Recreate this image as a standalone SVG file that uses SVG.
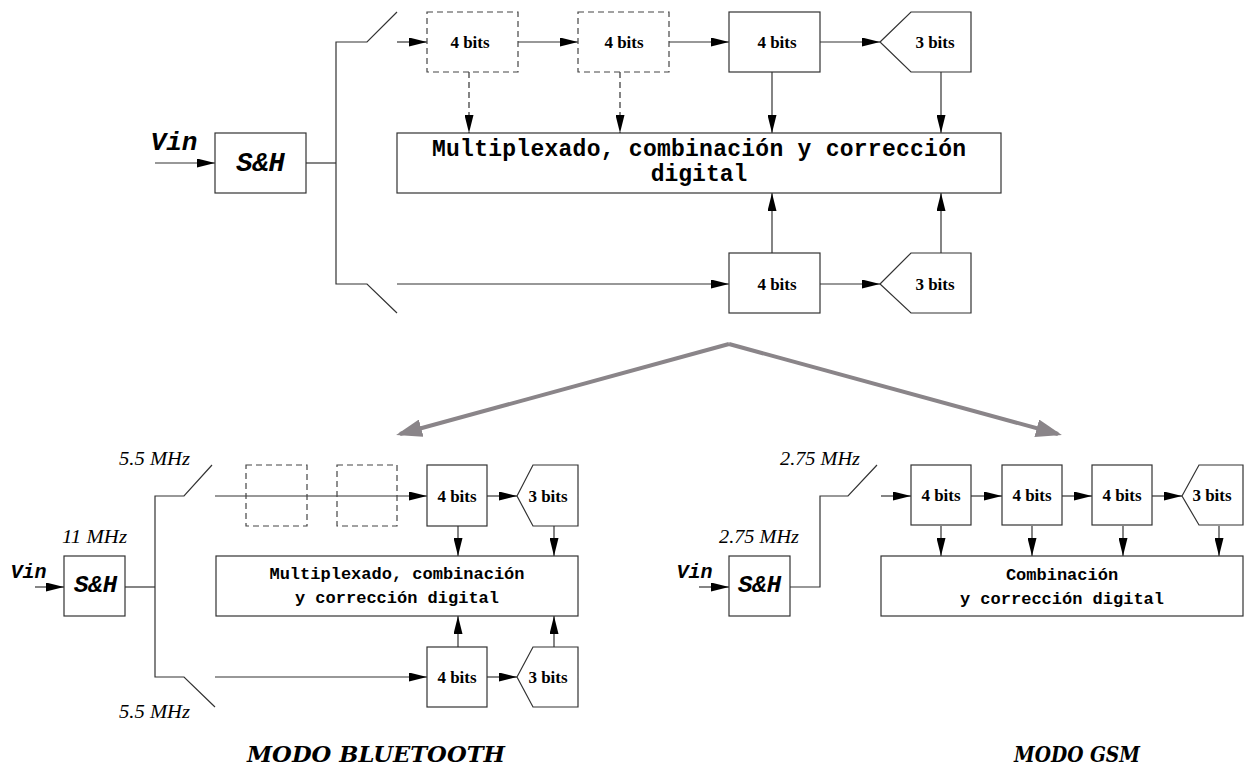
<svg xmlns="http://www.w3.org/2000/svg" width="1246" height="768" viewBox="0 0 1246 768">
<defs>
<marker id="ah" markerUnits="userSpaceOnUse" markerWidth="18" markerHeight="9" refX="18" refY="4.5" orient="auto"><path d="M0,0 L18,4.5 L0,9 z" fill="#000"/></marker>
<marker id="gh" markerUnits="userSpaceOnUse" markerWidth="26" markerHeight="18" refX="22" refY="9" orient="auto"><path d="M0,0 L26,9 L0,18 z" fill="#8a8589"/></marker>
<style>
.ln{fill:none;stroke:#333;stroke-width:1.2}
.ar{fill:none;stroke:#333;stroke-width:1.2;marker-end:url(#ah)}
.da{fill:none;stroke:#333;stroke-width:1.2;stroke-dasharray:6,4;marker-end:url(#ah)}
.bx{fill:#fff;stroke:#333;stroke-width:1.2}
.db{fill:none;stroke:#444;stroke-width:1.2;stroke-dasharray:6,4}
.bits{font-family:"Liberation Serif",serif;font-weight:bold;font-size:17px;text-anchor:middle;fill:#000}
.mono{font-family:"Liberation Mono",monospace;font-weight:bold;fill:#000}
.sh{font-family:"Liberation Mono",monospace;font-weight:bold;font-style:italic;fill:#000;text-anchor:middle}
.freq{font-family:"Liberation Serif",serif;font-style:italic;font-size:18px;fill:#000}
.title{font-family:"DejaVu Serif",serif;font-weight:bold;font-style:italic;font-size:22px;fill:#000}
.gray{fill:none;stroke:#8a8589;stroke-width:4;marker-end:url(#gh)}
</style>
</defs>
<rect width="1246" height="768" fill="#fff"/>

<g id="connectors">
<line class="ar" x1="155" y1="163" x2="215" y2="163"/>
<polyline class="ln" points="306,163 336,163"/>
<polyline class="ln" points="397,12 367,42 336,42 336,284 367,284 397,313"/>
<line class="ar" x1="397" y1="42" x2="427" y2="42"/>
<line class="ar" x1="518" y1="42" x2="578" y2="42"/>
<line class="ar" x1="669" y1="42" x2="729" y2="42"/>
<line class="ar" x1="820" y1="42" x2="880" y2="42"/>
<line class="da" x1="469" y1="72" x2="469" y2="133"/>
<line class="da" x1="620" y1="72" x2="620" y2="133"/>
<line class="ar" x1="772" y1="72" x2="772" y2="133"/>
<line class="ar" x1="941" y1="72" x2="941" y2="133"/>
<line class="ar" x1="397" y1="284" x2="729" y2="284"/>
<line class="ar" x1="820" y1="284" x2="880" y2="284"/>
<line class="ar" x1="772" y1="253" x2="772" y2="193"/>
<line class="ar" x1="941" y1="253" x2="941" y2="193"/>
<polyline class="gray" points="729,344 400,434"/>
<polyline class="gray" points="729,344 1058,434"/>
<line class="ar" x1="35" y1="587" x2="64" y2="587"/>
<polyline class="ln" points="125,587 155,587"/>
<polyline class="ln" points="212,465 184,496 155,496 155,677 184,677 215,707"/>
<line class="ar" x1="215" y1="496" x2="427" y2="496"/>
<line class="ar" x1="487" y1="496" x2="517" y2="496"/>
<line class="ar" x1="458" y1="526" x2="458" y2="556"/>
<line class="ar" x1="554" y1="526" x2="554" y2="556"/>
<line class="ar" x1="215" y1="677" x2="427" y2="677"/>
<line class="ar" x1="487" y1="677" x2="517" y2="677"/>
<line class="ar" x1="458" y1="647" x2="458" y2="616"/>
<line class="ar" x1="554" y1="647" x2="554" y2="616"/>
<line class="ar" x1="699" y1="587" x2="729" y2="587"/>
<polyline class="ln" points="790,587 820,587 820,496 848,496 877,465"/>
<line class="ar" x1="881" y1="496" x2="911" y2="496"/>
<line class="ar" x1="971" y1="496" x2="1002" y2="496"/>
<line class="ar" x1="1062" y1="496" x2="1092" y2="496"/>
<line class="ar" x1="1152" y1="496" x2="1182" y2="496"/>
<line class="ar" x1="941" y1="526" x2="941" y2="556"/>
<line class="ar" x1="1032" y1="526" x2="1032" y2="556"/>
<line class="ar" x1="1123" y1="526" x2="1123" y2="556"/>
<line class="ar" x1="1219" y1="526" x2="1219" y2="556"/>
</g>

<g id="top-vin"><text class="sh" x="174" y="150" font-size="26">Vin</text></g>
<g id="top-sh"><rect class="bx" x="215" y="133" width="91" height="60"/><text class="sh" x="260.5" y="171" font-size="27">S&amp;H</text></g>
<g id="top-d1"><rect class="db" x="427" y="12" width="91" height="60"/><text class="bits" x="470" y="48">4 bits</text></g>
<g id="top-d2"><rect class="db" x="578" y="12" width="91" height="60"/><text class="bits" x="624" y="48">4 bits</text></g>
<g id="top-b3"><rect class="bx" x="729" y="12" width="91" height="60"/><text class="bits" x="777" y="48">4 bits</text></g>
<g id="top-p"><polygon class="bx" points="880,42 911,12 971,12 971,72 911,72"/><text class="bits" x="935" y="48">3 bits</text></g>
<g id="top-mux"><rect class="bx" x="397" y="133" width="604" height="60"/>
<text class="mono" font-size="23" x="699" y="156" text-anchor="middle" textLength="534" lengthAdjust="spacing">Multiplexado, combinación y corrección</text>
<text class="mono" font-size="23" x="699" y="181" text-anchor="middle">digital</text></g>
<g id="top-b4"><rect class="bx" x="729" y="253" width="91" height="60"/><text class="bits" x="777" y="290">4 bits</text></g>
<g id="top-p2"><polygon class="bx" points="880,284 911,253 971,253 971,313 911,313"/><text class="bits" x="935" y="290">3 bits</text></g>

<g id="bt-labels">
<text class="freq" x="119" y="465" textLength="71" lengthAdjust="spacingAndGlyphs">5.5 MHz</text>
<text class="freq" x="62" y="543" textLength="65" lengthAdjust="spacingAndGlyphs">11 MHz</text>
<text class="freq" x="119" y="718" textLength="71" lengthAdjust="spacingAndGlyphs">5.5 MHz</text>
<text class="sh" x="28.5" y="578" font-size="20">Vin</text>
</g>
<g id="bt-sh"><rect class="bx" x="64" y="556" width="61" height="60"/><text class="sh" x="95.5" y="592" font-size="24">S&amp;H</text></g>
<g id="bt-d1"><rect class="db" x="246" y="465" width="61" height="61"/></g>
<g id="bt-d2"><rect class="db" x="337" y="465" width="60" height="61"/></g>
<g id="bt-b1"><rect class="bx" x="427" y="465" width="60" height="61"/><text class="bits" x="457" y="502">4 bits</text></g>
<g id="bt-p1"><polygon class="bx" points="517,496 533,465 578,465 578,526 533,526"/><text class="bits" x="548" y="502">3 bits</text></g>
<g id="bt-mux"><rect class="bx" x="216" y="556" width="362" height="60"/>
<text class="mono" font-size="17" x="397" y="579" text-anchor="middle">Multiplexado, combinación</text>
<text class="mono" font-size="17" x="397" y="603" text-anchor="middle">y corrección digital</text></g>
<g id="bt-b2"><rect class="bx" x="427" y="647" width="60" height="60"/><text class="bits" x="457" y="683">4 bits</text></g>
<g id="bt-p2"><polygon class="bx" points="517,677 533,647 578,647 578,707 533,707"/><text class="bits" x="548" y="683">3 bits</text></g>

<g id="gsm-labels">
<text class="freq" x="780" y="465" textLength="80" lengthAdjust="spacingAndGlyphs">2.75 MHz</text>
<text class="freq" x="719" y="543" textLength="80" lengthAdjust="spacingAndGlyphs">2.75 MHz</text>
<text class="sh" x="694.5" y="578" font-size="20">Vin</text>
</g>
<g id="gsm-sh"><rect class="bx" x="729" y="556" width="61" height="60"/><text class="sh" x="759.5" y="592" font-size="24">S&amp;H</text></g>
<g id="gsm-b1"><rect class="bx" x="911" y="465" width="60" height="60"/><text class="bits" x="941" y="501">4 bits</text></g>
<g id="gsm-b2"><rect class="bx" x="1002" y="465" width="60" height="60"/><text class="bits" x="1032" y="501">4 bits</text></g>
<g id="gsm-b3"><rect class="bx" x="1092" y="465" width="60" height="60"/><text class="bits" x="1122" y="501">4 bits</text></g>
<g id="gsm-p"><polygon class="bx" points="1182,496 1199,465 1243,465 1243,525 1199,525"/><text class="bits" x="1212" y="501">3 bits</text></g>
<g id="gsm-comb"><rect class="bx" x="881" y="556" width="362" height="60"/>
<text class="mono" font-size="17" x="1062" y="580" text-anchor="middle">Combinación</text>
<text class="mono" font-size="17" x="1062" y="604" text-anchor="middle">y corrección digital</text></g>

<g id="titles">
<text class="title" x="247" y="762" textLength="258" lengthAdjust="spacingAndGlyphs">MODO BLUETOOTH</text>
<text class="title" x="1014" y="762" textLength="126" lengthAdjust="spacingAndGlyphs">MODO GSM</text>
</g>
</svg>
